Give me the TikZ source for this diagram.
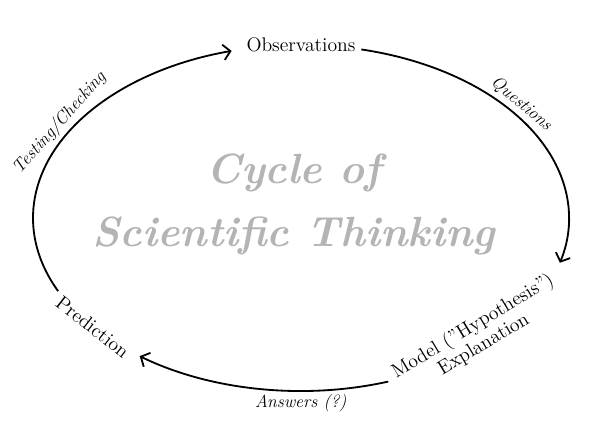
\documentclass[tikz,border=0pt]{standalone}
\usepackage{tikz}
\usetikzlibrary{positioning}
\usetikzlibrary{arrows.meta}
\definecolor{titlegray}{RGB}{180,180,180}

\begin{document}
\begin{tikzpicture}[
		cyc/.style={line width=1.3pt, -{Straight Barb[length=5pt,width=11pt]}},
		lbl/.style={font=\fontsize{14}{15}\selectfont, inner sep=2pt},
		ital/.style={font=\fontsize{12.5}{13}\selectfont\itshape, inner sep=2pt},
		ttlstyle/.style={font=\fontsize{30}{45}\selectfont\bfseries\itshape, text=titlegray, align=center}
	]
				\useasboundingbox (-7.525,-5.4) rectangle (7.475,5.45);
				
				\node[lbl] (obs) at (90:6.7cm and 4.325cm) {Observations};
				\node[lbl, rotate=31, align=center] (model) at (4.43,-2.93) {Model ("Hypothesis")\\Explanation};
				\node[lbl, rotate=-38] (pred) at (-141:6.7cm and 4.325cm) {Prediction};
				\node[ttlstyle] (ttl) at (-0.18,0.33) {Cycle of\\Scientific Thinking};
				
				\coordinate (q0) at (77:6.7cm and 4.325cm);
				\coordinate (a0) at (-71:6.7cm and 4.325cm);
				\coordinate (t0) at (205:6.7cm and 4.325cm);
				
				\draw[cyc] (q0) arc[start angle=77, end angle=-15, x radius=6.7cm, y radius=4.325cm] node[ital, sloped, above, pos=0.43] (ques) {Questions};
				\draw[cyc] (a0) arc[start angle=-71, end angle=-127, x radius=6.7cm, y radius=4.325cm] node[ital, below, pos=0.34] (ans) {Answers (?)};
				\draw[cyc] (t0) arc[start angle=205, end angle=105, x radius=6.7cm, y radius=4.325cm] node[ital, sloped, above, pos=0.55] (test) {Testing/Checking};
			\end{tikzpicture}
\end{document}
